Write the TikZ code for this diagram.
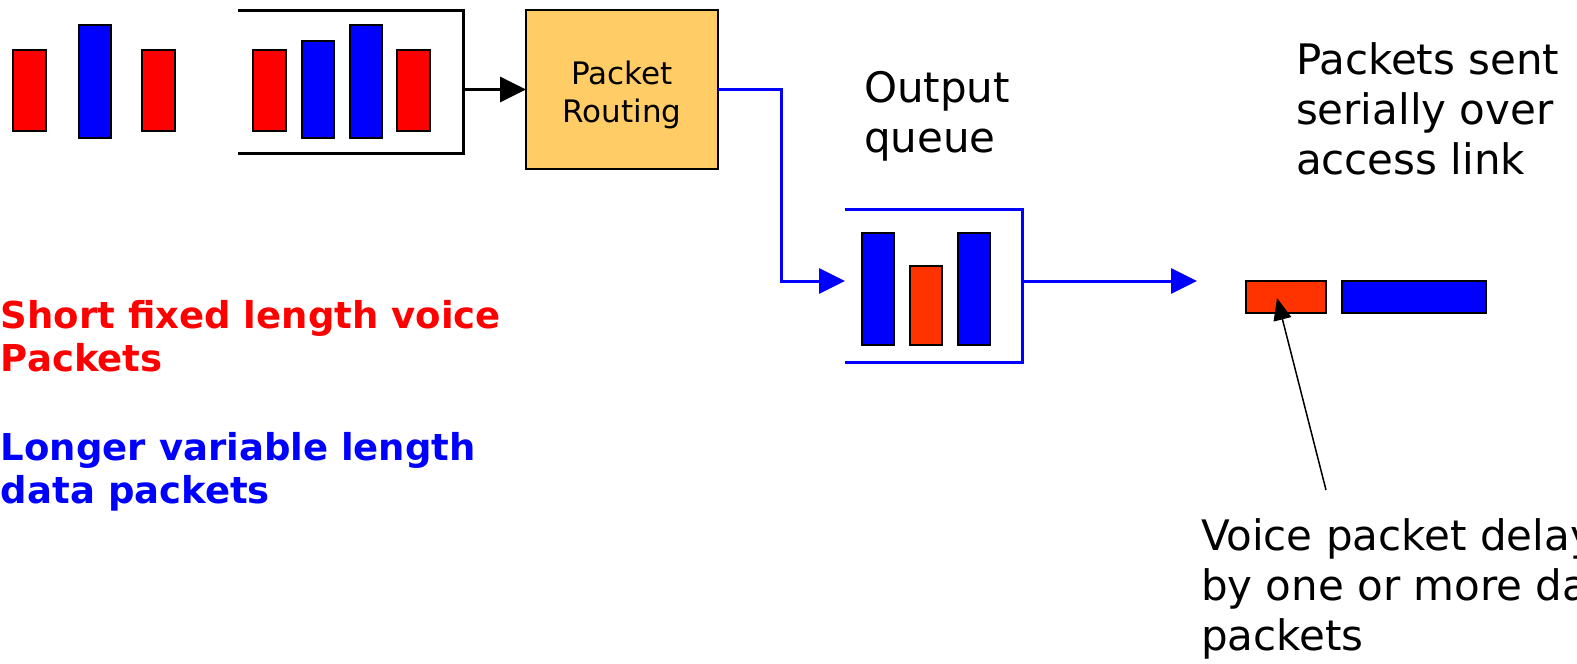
\documentclass[tikz,border=0pt]{standalone}
\usepackage{fontspec}
\setmainfont{DejaVu Sans}
\usepackage{tikz}
\usetikzlibrary{positioning, arrows.meta, calc}
\definecolor{voice}{HTML}{FF0000}
\definecolor{voiceq}{HTML}{FF3300}
\definecolor{data}{HTML}{0000FF}
\definecolor{router}{HTML}{FFCC66}

\begin{document}
\begin{tikzpicture}[x=1pt, y=-1pt,
      every node/.style={inner sep=0pt, outer sep=0pt},
      pkt/.style={draw=black, line width=2pt, minimum width=#1, rectangle},
      vpkt/.style={pkt=33pt, fill=voice, minimum height=81pt},
      dpkt/.style={pkt=32pt, fill=data},
      holder/.style={line width=3pt},
      link/.style={draw=data, line width=3pt, -{Triangle[length=26pt, width=25pt]}},
      note/.style={align=left, anchor=base west,
        font=\fontsize{42}{50}\selectfont},
      legend/.style={align=left, anchor=base west,
        font=\fontsize{37}{43}\selectfont\bfseries}]

    \clip[use as bounding box] (0,0) rectangle (1577,664);

    % packets arriving
    \node[vpkt] (a1) at (29.5,90.5) {};
    \node[dpkt, minimum height=113pt] (a2) at (94.5,81.5) {};
    \node[vpkt] (a3) at (158,90.5) {};

    % input buffer
    \draw[holder] (238,10) -| (463,153) -- (238,153);
    \coordinate (inbuf) at (463,89.5);
    \node[vpkt] (b1) at (269.5,90.5) {};
    \node[dpkt, minimum height=97pt] (b2) at (318,89.5) {};
    \node[dpkt, minimum height=113pt] (b3) at (366,81.5) {};
    \node[vpkt] (b4) at (413.5,90.5) {};

    \node[draw=black, line width=2pt, fill=router, minimum width=192pt,
      minimum height=159pt] (route) at (622,89.5) {};
    \node[font=\fontsize{31}{38}\selectfont, align=center]
      (routetxt) at (622,95) {Packet\\Routing};
    \draw[line width=3pt, -{Triangle[length=26pt, width=25pt]}] (inbuf) -- (route.west);

    % output queue
    \coordinate (qin) at (845,281);
    \coordinate (qout) at (1022,281);
    \coordinate (wire) at (1197,281);
    \draw[holder, draw=data] (845,209) -| (1022,362) -- (845,362);
    \draw[link] (route.east) -- ++(63,0) |- (qin);
    \draw[link] (qout) -- (wire);
    \node[dpkt, minimum height=112pt] (q1) at (877.5,289) {};
    \node[pkt=32pt, fill=voiceq, minimum height=79pt] (q2) at (926,305.5) {};
    \node[dpkt, minimum height=112pt] (q3) at (974,289) {};

    % packets on the link
    \node[pkt=80pt, fill=voiceq, minimum height=32pt] (s1) at (1286,297) {};
    \node[pkt=144pt, fill=data, minimum height=32pt] (s2) at (1414,297) {};

    \node[note] (oq) at (864,152) {Output\\queue};
    \node[note] (ps) at (1296,174) {Packets sent\\serially over\\access link};
    \node[note] (vd) at (1201,650) {Voice packet delayed\\by one or more data\\packets};

    \coordinate (tail) at (1326,490);
    \coordinate (hit) at (1277,298);
    \draw[line width=1.5pt, -{Triangle[length=22pt, width=18pt]}] (tail) -- (hit);

    \node[legend, text=voice] (lv) at (1,371) {Short fixed length voice\\Packets};
    \node[legend, text=data] (ld) at (1,503) {Longer variable length\\data packets};
  \end{tikzpicture}
\end{document}
